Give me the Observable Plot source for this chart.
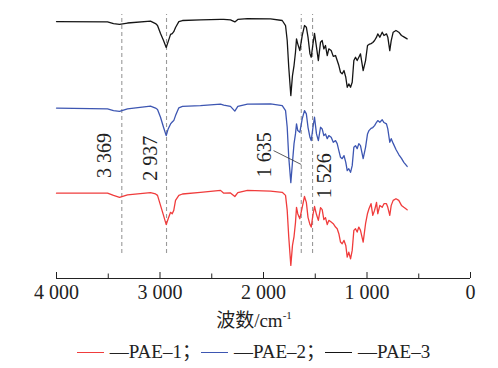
<!DOCTYPE html>
<html>
<head>
<meta charset="utf-8">
<script src="https://cdn.jsdelivr.net/npm/d3@7"></script>
<script src="https://cdn.jsdelivr.net/npm/@observablehq/plot@0.6"></script>
<style>
  html, body { margin: 0; padding: 0; background: #fff; }
  #wrap { position: relative; width: 498px; height: 368px; font-family: "Liberation Serif", "Times New Roman", "DejaVu Serif", "Noto Sans CJK SC", serif; color: #222; }
  #chart { position: absolute; left: 0; top: 0; }
  #xlabel { position: absolute; left: 0; width: 508px; top: 309px; text-align: center; font-size: 19px; line-height: 24px; }
  #xlabel sup { font-size: 11px; vertical-align: 0; position: relative; top: -8px; }
  #legend { position: absolute; left: 0; width: 507px; top: 340px; display: flex; justify-content: center; align-items: center; font-size: 19px; line-height: 24px; white-space: nowrap; }
  .item { display: flex; align-items: center; }
  .sw { display: inline-block; width: 27px; height: 0; border-top: 1.3px solid; margin-right: 6px; }
</style>
</head>
<body>
<div id="wrap">
  <div id="chart"></div>
  <div id="xlabel">波数/cm<sup>-1</sup></div>
  <div id="legend"></div>
</div>
<script>
// Wavenumber grid (cm^-1)
const wavenumber = [4000, 3507, 3449, 3391, 3314, 3092, 3043, 3024, 2995, 2966,
  2940, 2921, 2898, 2882, 2867, 2850, 2818, 2783, 2609, 2415,
  2384, 2319, 2277, 2248, 2155, 1932, 1819, 1787, 1771, 1756,
  1736, 1720, 1705, 1691, 1681, 1669, 1649, 1626, 1604, 1586,
  1570, 1551, 1539, 1522, 1507, 1488, 1470, 1449, 1433, 1417,
  1401, 1384, 1369, 1346, 1326, 1304, 1288, 1272, 1256, 1240,
  1222, 1205, 1191, 1176, 1159, 1143, 1127, 1111, 1095, 1079,
  1063, 1037, 1014, 995, 981, 961, 944, 927, 908, 896,
  876, 853, 836, 812, 799, 780, 766, 747, 720, 693,
  667, 644, 612];

// Offset transmittance (a.u.) for each sample
const pae1 = [30.7, 30.7, 29.9, 29.2, 30.1, 30.9, 30.4, 29.9, 26.3, 22.7,
  19.4, 21.5, 23.8, 23.3, 24.5, 28.1, 29.9, 30.4, 31.0, 31.7,
  30.7, 30.8, 29.5, 30.9, 31.7, 31.4, 31.0, 29.9, 24.5, 14.9,
  4.7, 11.9, 15.1, 20.1, 25.6, 23.3, 21.5, 25.6, 29.5, 27.4,
  22.0, 19.4, 18.5, 23.0, 25.9, 23.0, 20.9, 25.5, 24.8, 21.2,
  21.9, 19.4, 20.9, 20.3, 19.7, 18.5, 17.9, 16.1, 13.1, 12.5,
  13.7, 11.9, 7.7, 9.5, 7.1, 10.1, 17.3, 17.9, 16.7, 18.5,
  17.3, 13.1, 19.7, 23.4, 25.1, 26.9, 22.7, 24.5, 27.4, 23.3,
  26.3, 25.6, 26.9, 26.9, 25.6, 22.7, 26.3, 28.1, 28.7, 28.1,
  26.3, 25.6, 24.7];

const pae2 = [61.3, 61.0, 60.4, 60.1, 61.0, 62.0, 61.3, 60.8, 58.0, 54.4,
  51.4, 53.8, 55.6, 56.3, 56.8, 58.6, 61.4, 61.9, 62.2, 62.7,
  62.4, 61.9, 60.2, 61.9, 62.7, 62.8, 62.2, 60.4, 54.4, 43.6,
  34.5, 41.8, 48.5, 52.0, 55.6, 53.2, 52.6, 57.4, 60.4, 59.2,
  54.4, 50.8, 49.6, 54.4, 58.0, 52.0, 49.6, 54.4, 53.8, 51.4,
  52.0, 50.3, 51.4, 50.8, 49.0, 49.6, 48.5, 46.0, 43.6, 43.1,
  44.2, 41.8, 38.8, 39.5, 38.2, 40.6, 47.2, 47.8, 46.7, 48.5,
  47.8, 43.1, 47.2, 52.0, 53.2, 54.0, 54.3, 55.0, 56.2, 56.8,
  56.2, 57.1, 56.1, 55.6, 53.8, 49.0, 50.3, 48.6, 46.4, 44.6,
  43.2, 41.8, 40.3];

const pae3 = [92.4, 92.3, 91.7, 91.4, 91.9, 92.6, 91.7, 91.0, 88.1, 85.6,
  83.1, 85.2, 87.8, 88.1, 88.8, 90.3, 92.4, 92.8, 93.0, 93.2,
  93.2, 93.0, 92.3, 93.2, 93.5, 93.4, 92.8, 91.0, 85.6, 76.0,
  65.8, 73.0, 76.6, 81.4, 86.2, 84.4, 82.0, 87.4, 91.0, 90.4,
  86.8, 80.8, 79.6, 84.4, 88.2, 83.2, 78.4, 85.0, 85.6, 82.6,
  83.8, 80.2, 82.6, 82.0, 79.9, 80.2, 78.4, 76.6, 74.2, 73.6,
  74.8, 72.4, 68.8, 70.0, 68.8, 70.6, 78.4, 79.6, 78.4, 79.6,
  80.8, 74.8, 78.4, 83.8, 84.2, 84.5, 84.9, 85.6, 86.8, 88.0,
  86.8, 88.6, 87.4, 88.0, 86.8, 82.0, 85.6, 88.6, 89.2, 88.6,
  87.4, 86.9, 86.2];

const seriesNames = ["PAE–1", "PAE–2", "PAE–3"];
const seriesColors = ["#f03c3c", "#3d56b2", "#151515"];

// Marked bands
const bands = [3369, 2937, 1635, 1526];
const bandLabels = ["3 369", "2 937", "1 635", "1 526"];

const xTicks = [4000, 3000, 2000, 1000, 0];
const xMinorTicks = [3500, 2500, 1500, 500];

const fmt = d3.formatLocale({decimal: ".", thousands: " ", grouping: [3]}).format(",");

const series = [pae1, pae2, pae3];
const lines = series.map((vals, s) =>
  Plot.line(wavenumber.map((w, i) => ({w, t: vals[i]})), {
    x: "w", y: "t", stroke: seriesColors[s], strokeWidth: 1.3, strokeLinejoin: "round"
  })
);

// annotation placement (data units)
const labelY = [44.2, 43.3, 44.5, 37.0];
const labelDx = [-17, -16, -37, 12];
const labelData = bands.map((b, i) => ({b, label: bandLabels[i], y: labelY[i], dx: labelDx[i]}));

const serif = "'Liberation Serif', 'Times New Roman', 'DejaVu Serif', serif";

const chart = Plot.plot({
  width: 498,
  height: 305,
  marginTop: 0,
  marginBottom: 27,
  marginLeft: 56,
  marginRight: 28,
  x: {domain: [4000, 0]},
  y: {domain: [0, 100], axis: null},
  style: {fontFamily: serif, fontSize: "20px", color: "#222", background: "#fff"},
  marks: [
    Plot.ruleX(bands, {x: d => d, y1: 9, y2: 95, stroke: "#9a9a9a", strokeWidth: 1.1, strokeDasharray: "4,3"}),
    ...lines,
    ...labelData.map(d => Plot.text([d], {x: "b", y: "y", text: "label", rotate: -90, dx: d.dx, fontSize: 20, fontFamily: serif, fill: "#222"})),
    Plot.link([{x1: 1903, y1: 46, x2: 1635, y2: 41}], {x1: "x1", y1: "y1", x2: "x2", y2: "y2", stroke: "#333", strokeWidth: 0.8}),
    Plot.ruleY([0], {stroke: "#222", strokeWidth: 1}),
    Plot.axisX({ticks: xTicks, tickSize: -6, tickPadding: 12, tickFormat: fmt, label: null, stroke: "#222", fontSize: 20, fontFamily: serif}),
    Plot.axisX({ticks: xMinorTicks, tickSize: -4.5, tickFormat: () => "", label: null, stroke: "#222"})
  ]
});
document.getElementById("chart").appendChild(chart);

// Legend
const legend = document.getElementById("legend");
seriesNames.forEach((name, i) => {
  const item = document.createElement("span");
  item.className = "item";
  const sw = document.createElement("span");
  sw.className = "sw";
  sw.style.borderTopColor = seriesColors[i];
  const txt = document.createElement("span");
  txt.textContent = "—" + name + (i < seriesNames.length - 1 ? "；" : "");
  item.appendChild(sw);
  item.appendChild(txt);
  legend.appendChild(item);
});
</script>
</body>
</html>
